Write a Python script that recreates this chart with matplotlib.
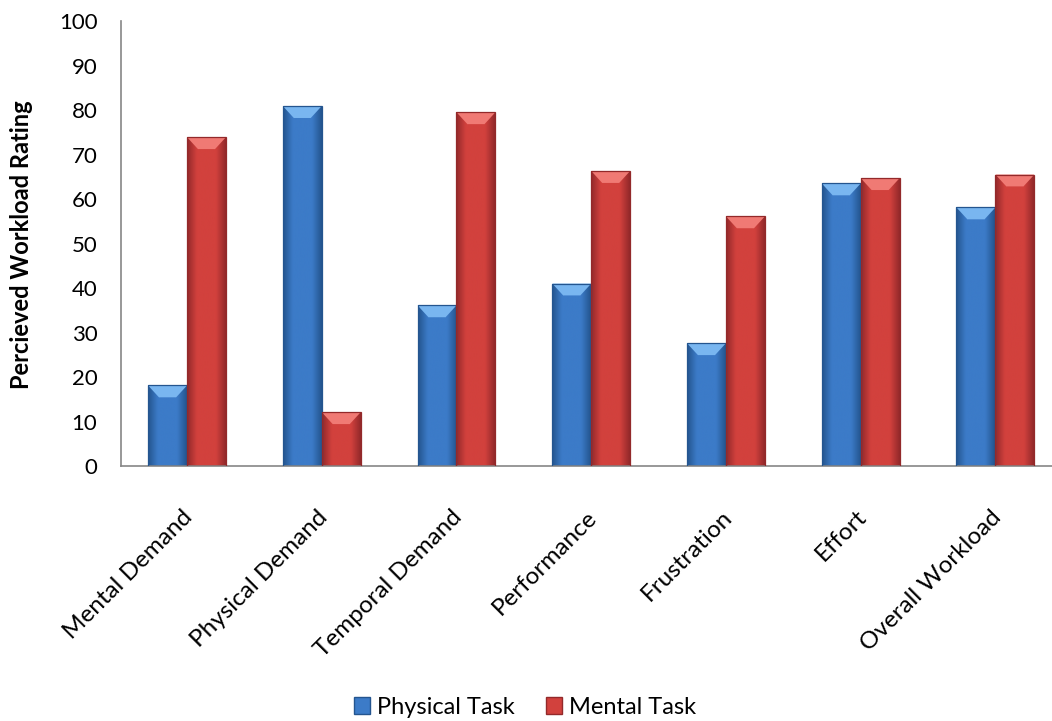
import numpy as np
import matplotlib
matplotlib.use('Agg')
import matplotlib.pyplot as plt
from matplotlib.patches import Polygon, Patch
from matplotlib.colors import LinearSegmentedColormap
from matplotlib.transforms import ScaledTranslation

categories = ['Mental Demand', 'Physical Demand', 'Temporal Demand', 'Performance',
              'Frustration', 'Effort', 'Overall Workload']
physical_task = [18.1, 80.9, 36.1, 41.0, 27.6, 63.5, 58.1]
mental_task = [73.9, 12.1, 79.5, 66.3, 56.1, 64.7, 65.5]
yticks = list(range(0, 101, 10))

FONT = ['Lato', 'DejaVu Sans']
plt.rcParams['font.family'] = FONT

# base / edge / bevel colours per series
STYLE = {
    'Physical Task': dict(base='#3c7bc8', dark='#24558f', light='#79b6f0'),
    'Mental Task': dict(base='#d2413d', dark='#93292a', light='#f07a74'),
}

fig = plt.figure(figsize=(10.52, 7.21), dpi=100)
ax = fig.add_axes([121 / 1052, 1 - 466 / 721, 1 - 121 / 1052, (466 - 21) / 721])

W = 0.289
x = np.arange(len(categories))


def shade_bars(bars, st):
    cmap = LinearSegmentedColormap.from_list(
        'b', [st['dark'], st['base'], st['base'], st['base'], st['dark']])
    grad = np.linspace(0, 1, 64)[None, :]
    # px -> data conversion for the bevel
    px_x = (6.42 + 0.49) / (1052 - 121)
    px_y = 100 / 445.0
    for b in bars:
        x0, w, h = b.get_x(), b.get_width(), b.get_height()
        im = ax.imshow(grad, extent=(x0, x0 + w, 0, h), aspect='auto', cmap=cmap,
                       zorder=2, interpolation='bicubic')
        im.set_clip_path(b)
        ins, bh = 11 * px_x, 12 * px_y
        ax.add_patch(Polygon([(x0, h), (x0 + w, h), (x0 + w - ins, h - bh), (x0 + ins, h - bh)],
                             closed=True, facecolor=st['light'], edgecolor='none', zorder=3))
        ax.add_patch(Polygon([(x0 + ins, h - bh), (x0 + w - ins, h - bh), (x0 + w / 2, h - 2.2 * bh)],
                             closed=True, facecolor=st['base'], alpha=0.5, edgecolor='none', zorder=3))
        ax.add_patch(plt.Rectangle((x0, 0), w, h, facecolor='none', edgecolor=st['dark'],
                                   linewidth=0.9, zorder=4))


b1 = ax.bar(x - W / 2, physical_task, W, color=STYLE['Physical Task']['base'], zorder=1)
b2 = ax.bar(x + W / 2, mental_task, W, color=STYLE['Mental Task']['base'], zorder=1)
shade_bars(b1, STYLE['Physical Task'])
shade_bars(b2, STYLE['Mental Task'])

ax.set_xlim(-0.49, 6.42)
ax.set_ylim(0, 100)
ax.set_yticks(yticks)
ax.tick_params(axis='y', length=0, pad=17, labelsize=16)
ax.tick_params(axis='x', length=0, pad=29)
ax.set_xticks(x)
ax.set_xticklabels(categories, rotation=45, ha='right', rotation_mode='anchor', fontsize=17.5)
shift = ScaledTranslation(-5 / 100, 0, fig.dpi_scale_trans)
for lbl in ax.get_xticklabels():
    lbl.set_transform(lbl.get_transform() + shift)

for s in ['top', 'right']:
    ax.spines[s].set_visible(False)
for s in ['left', 'bottom']:
    ax.spines[s].set_color('#868686')
    ax.spines[s].set_linewidth(1.2)

fig.text(22 / 1052, 1 - 245 / 721, 'Percieved Workload Rating', rotation=90,
         ha='center', va='center', fontsize=17, fontweight='bold')

handles = [Patch(facecolor=STYLE[k]['base'], edgecolor=STYLE[k]['dark'], label=k) for k in STYLE]
fig.legend(handles=handles, loc='center', bbox_to_anchor=(525 / 1052, 1 - 707 / 721),
           ncol=2, frameon=False, fontsize=17, handlelength=0.7, handleheight=0.7,
           handletextpad=0.3, columnspacing=1.3)

fig.savefig('out.png', dpi=100)
